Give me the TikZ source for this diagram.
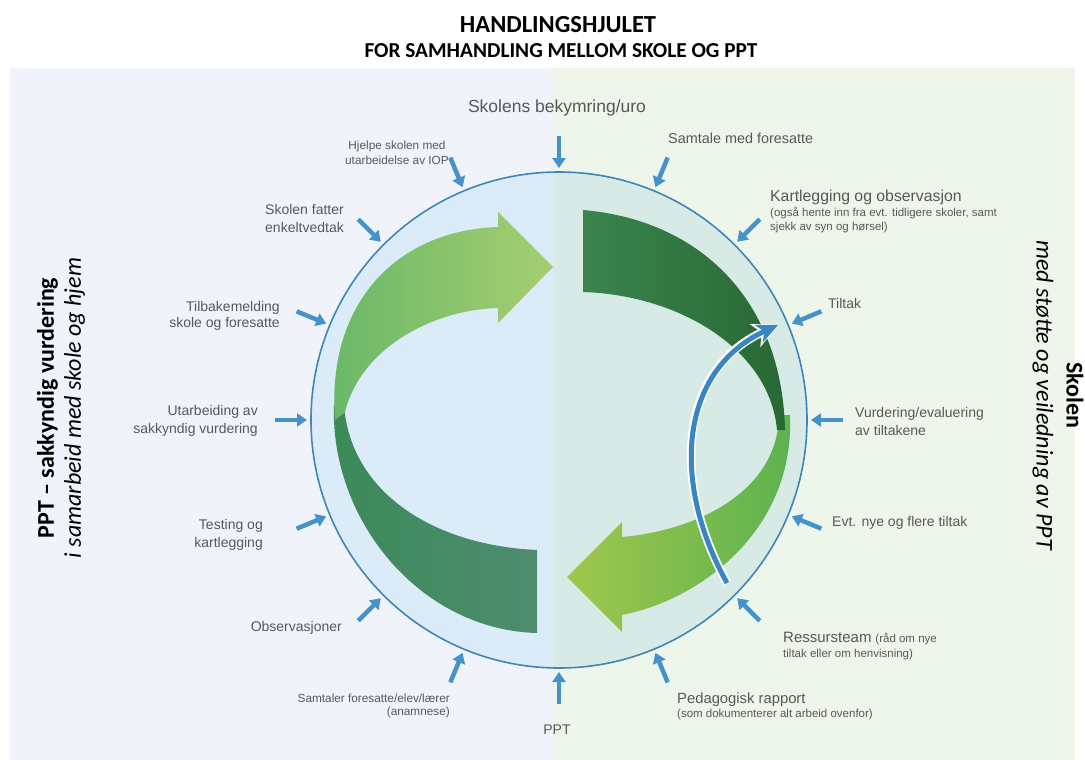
\documentclass[tikz,border=0pt]{standalone}
\usepackage{fontspec}
\setmainfont{Liberation Sans}
\newfontfamily\calib{Carlito}
\usetikzlibrary{arrows.meta,calc}
\definecolor{panelL}{RGB}{240,244,250}
\definecolor{panelR}{RGB}{238,246,236}
\definecolor{inL}{RGB}{220,235,248}
\definecolor{inR}{RGB}{216,234,230}
\definecolor{ringc}{RGB}{62,134,184}
\definecolor{blueA}{RGB}{70,146,202}
\definecolor{blueC}{RGB}{58,135,192}
\definecolor{lblc}{RGB}{88,88,88}
\definecolor{ldA}{RGB}{60,138,88}
\definecolor{ldB}{RGB}{78,140,112}
\definecolor{llA}{RGB}{104,184,104}
\definecolor{llB}{RGB}{166,206,112}
\definecolor{rdA}{RGB}{58,132,78}
\definecolor{rdB}{RGB}{40,104,52}
\definecolor{rlA}{RGB}{160,200,76}
\definecolor{rlB}{RGB}{92,178,80}
\begin{document}
\begin{tikzpicture}[x=1pt,y=-1pt,
  lbl/.style={text=lblc, inner sep=0pt, font=\fontsize{14}{18}\selectfont},
  lbls/.style={text=lblc, inner sep=0pt, font=\fontsize{11.8}{14.5}\selectfont},
  lblt/.style={text=lblc, inner sep=0pt, font=\fontsize{11.5}{13}\selectfont},
  sarrow/.style={draw=blueA, line width=4.5pt, -{Triangle[length=10pt,width=13pt]}},
  ttl/.style={inner sep=0pt, font=\calib\bfseries\fontsize{24.5}{28}\selectfont}]
\useasboundingbox (0,0) rectangle (1085,760);
\fill[white] (0,0) rectangle (1085,760);
\fill[panelL] (10,68) rectangle (553,760);
\fill[panelR] (553,68) rectangle (1075,760);
\coordinate (C) at (559,420);
% circle
\begin{scope}
  \clip (C) circle[radius=248pt];
  \fill[inL] (300,160) rectangle (553,680);
  \fill[inR] (553,160) rectangle (820,680);
\end{scope}
\draw[ringc, line width=1.6pt] (C) circle[radius=248pt];
% left ribbon
\shade[left color=ldA, right color=ldB] (334,405) .. controls (330,520) and (420,630) .. (537,633) -- (537,550) .. controls (430,545) and (350,490) .. (344,405) -- cycle;
\shade[left color=llA, right color=llB] (335,420) .. controls (326,300) and (400,230) .. (498,227) -- (498,212) -- (553,267) -- (498,323) -- (498,308) .. controls (430,310) and (360,350) .. (345,412) -- cycle;
% right ribbon
\shade[left color=rlA, right color=rlB] (790,415) .. controls (795,530) and (700,600) .. (622,615) -- (622,632) -- (567,577) -- (622,522) -- (622,537) .. controls (700,530) and (778,490) .. (779,415) -- cycle;
\shade[left color=rdA, right color=rdB] (583,210) .. controls (700,220) and (782,300) .. (785,430) -- (777,430) .. controls (770,350) and (680,295) .. (583,292) -- cycle;
% blue curved arrow
\coordinate (bs) at (727,583);
\coordinate (be) at (778,325);
\draw[white, line width=8.5pt, -{Stealth[length=25pt,width=25pt,inset=7pt]}] (bs) .. controls (670,480) and (680,370) .. (be);
\draw[blueC, line width=5pt, -{Stealth[length=21pt,width=19pt,inset=6pt]}] (bs) .. controls (670,480) and (680,370) .. (be);
% small arrows
\foreach \i [evaluate=\i as \a using \i*22.5] in {0,...,15} {
  \coordinate (tail\i) at ($(C)+(-\a:284)$);
  \coordinate (tip\i) at ($(C)+(-\a:252)$);
  \draw[sarrow] (tail\i) -- (tip\i);
}
% titles
\node[ttl] (title) at (558,25) {HANDLINGSHJULET};
\node[ttl, font=\calib\bfseries\fontsize{21.3}{24}\selectfont] (sub) at (561,51) {FOR SAMHANDLING MELLOM SKOLE OG PPT};
\node[rotate=90, align=center, inner sep=0pt, font=\calib\fontsize{24}{27}\selectfont] (lside) at (61,408) {{\bfseries PPT – sakkyndig vurdering}\\{\itshape i samarbeid med skole og hjem}};
\node[rotate=-90, align=center, inner sep=0pt, font=\calib\fontsize{24}{30}\selectfont] (rside) at (1058,395) {{\bfseries Skolen}\\{\itshape med støtte og veiledning av PPT}};
% labels
\node[lbl, font=\fontsize{17.5}{19}\selectfont] (top) at (557,108) {Skolens bekymring/uro};
\node[lbl, anchor=west, font=\fontsize{14.4}{18}\selectfont] (samt) at (668,138) {Samtale med foresatte};
\node[lbls, align=center] (hjelpe) at (397,153) {Hjelpe skolen med\\utarbeidelse av IOP};
\node[lbl, align=right, anchor=east] (fatter) at (344,218) {Skolen fatter\\enkeltvedtak};
\node[lbl, align=right, anchor=east, font=\fontsize{14}{16}\selectfont] (tilb) at (280,316) {Tilbakemelding\\skole og foresatte};
\node[lbl, align=right, anchor=east] (utarb) at (258,421) {Utarbeiding av\\sakkyndig vurdering};
\node[lbl, align=right, anchor=east] (test) at (263,535) {Testing og\\kartlegging};
\node[lbl, anchor=east] (obs) at (342,628) {Observasjoner};
\node[lbls, align=right, anchor=east, font=\fontsize{11.8}{13}\selectfont] (samtaler) at (450,706) {Samtaler foresatte/elev/lærer\\(anamnese)};
\node[lbl] (ppt) at (557,730) {PPT};
\node[lbl, anchor=west, font=\fontsize{14.8}{18}\selectfont] (ped1) at (677,700) {Pedagogisk rapport};
\node[lblt, anchor=west] (ped2) at (677,715) {(som dokumenterer alt arbeid ovenfor)};
\node[lbl, anchor=base west] (res1) at (783,642) {{\fontsize{15}{18}\selectfont Ressursteam} {\fontsize{11.5}{13}\selectfont (råd om nye}};
\node[lblt, anchor=west] (res2) at (783,655) {tiltak eller om henvisning)};
\node[lbl, anchor=west] (evt) at (832,523) {Evt. nye og flere tiltak};
\node[lbl, align=left, anchor=west] (vurd) at (855,421) {Vurdering/evaluering\\av tiltakene};
\node[lbl, anchor=west] (tiltak) at (828,303) {Tiltak};
\node[lbl, anchor=west, font=\fontsize{15.8}{18}\selectfont] (kart1) at (770,197) {Kartlegging og observasjon};
\node[lblt, anchor=west] (kart2) at (770,213) {(også hente inn fra evt. tidligere skoler, samt};
\node[lblt, anchor=west] (kart3) at (770,228) {sjekk av syn og hørsel)};
\end{tikzpicture}
\end{document}
